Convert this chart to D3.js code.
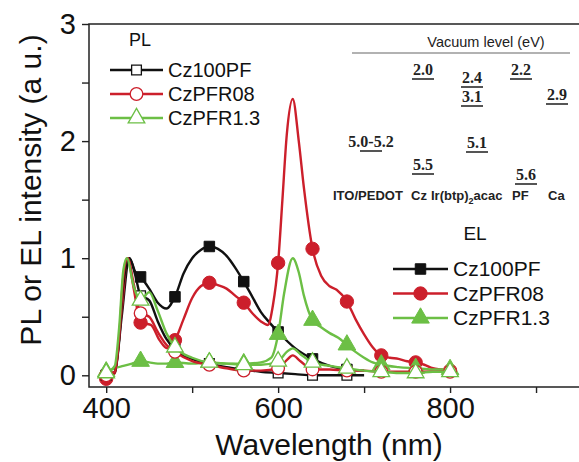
<!DOCTYPE html>
<html>
<head>
<meta charset="utf-8">
<script src="https://cdn.jsdelivr.net/npm/d3@7"></script>
<style>
  body { margin: 0; background: #fff; }
  text { font-family: "Liberation Sans", Arial, sans-serif; }
</style>
</head>
<body>
<svg id="chart" width="579" height="462"></svg>
<script>
// Spectra: [wavelength (nm), normalised intensity]
var plCz100PF = [[400,0.0],[410,0.03],[415,0.3],[420,0.78],[427,1.0],[434,0.85],[440,0.68],[450,0.64],[460,0.46],[470,0.31],[480,0.22],[500,0.14],[520,0.1],[540,0.07],[560,0.05],[580,0.03],[600,0.02],[620,0.01],[640,0.0],[660,0.0],[680,0.0],[700,0.0]];
var plCzPFR08 = [[400,0.0],[410,0.03],[415,0.32],[420,0.85],[425,1.0],[432,0.78],[440,0.53],[450,0.5],[460,0.37],[470,0.26],[480,0.2],[500,0.12],[520,0.09],[540,0.06],[560,0.04],[580,0.04],[600,0.06],[610,0.13],[617,0.17],[626,0.12],[640,0.05],[660,0.05],[680,0.04],[700,0.04],[720,0.03],[740,0.03],[760,0.03],[780,0.03],[800,0.03]];
var plCzPFR13 = [[400,0.02],[410,0.08],[415,0.4],[420,0.9],[424,1.0],[432,0.76],[440,0.64],[450,0.71],[460,0.55],[470,0.36],[480,0.24],[500,0.15],[520,0.11],[540,0.1],[560,0.09],[580,0.09],[600,0.12],[610,0.2],[617,0.23],[626,0.18],[640,0.11],[660,0.08],[680,0.06],[700,0.04],[720,0.03],[740,0.02],[760,0.02],[780,0.03],[800,0.03]];

var elCz100PF = [[400,0.0],[410,0.02],[418,0.5],[427,1.0],[434,0.88],[440,0.84],[450,0.74],[460,0.62],[470,0.57],[480,0.67],[490,0.87],[500,1.0],[510,1.07],[520,1.1],[530,1.08],[540,1.02],[550,0.92],[560,0.8],[570,0.67],[580,0.54],[590,0.45],[600,0.37],[620,0.23],[640,0.14],[660,0.08],[680,0.05],[700,0.04]];
var elCzPFR08 = [[400,-0.03],[410,0.02],[418,0.55],[425,1.0],[432,0.74],[440,0.45],[452,0.43],[462,0.3],[471,0.23],[480,0.3],[490,0.48],[500,0.66],[510,0.76],[520,0.79],[530,0.77],[540,0.74],[550,0.68],[560,0.62],[570,0.53],[580,0.46],[588,0.43],[594,0.6],[600,0.96],[605,1.5],[610,2.05],[617,2.36],[624,2.0],[630,1.6],[640,1.08],[650,0.85],[660,0.76],[668,0.73],[680,0.63],[690,0.48],[700,0.35],[710,0.24],[720,0.17],[730,0.15],[740,0.14],[750,0.12],[760,0.11],[770,0.09],[780,0.06],[790,0.05],[800,0.04]];
var elCzPFR13 = [[400,0.03],[410,0.06],[420,0.08],[430,0.1],[440,0.12],[450,0.11],[460,0.1],[470,0.1],[480,0.11],[500,0.1],[520,0.11],[540,0.1],[560,0.1],[580,0.11],[592,0.15],[600,0.35],[607,0.7],[617,1.0],[624,0.88],[630,0.68],[640,0.47],[650,0.41],[660,0.36],[670,0.32],[680,0.26],[690,0.2],[700,0.15],[710,0.11],[720,0.09],[740,0.07],[760,0.06],[780,0.05],[800,0.05]];

var seriesNames = ['Cz100PF', 'CzPFR08', 'CzPFR1.3'];
var xTicks = [400, 500, 600, 700, 800, 900];
var xTickLabels = ['400', '', '600', '', '800', ''];
var yTicks = [0, 0.5, 1, 1.5, 2, 2.5, 3];
var yTickLabels = ['0', '', '1', '', '2', '', '3'];

// Energy-level inset
var levelValues = ['2.0', '2.4', '2.2', '3.1', '2.9', '5.0-5.2', '5.1', '5.5', '5.6'];
var layerNames = ['ITO/PEDOT', 'Cz', 'Ir(btp)', 'PF', 'Ca'];

var COLORS = ['#111111', '#cc1f2b', '#6cbf45'];
var SHAPES = [d3.symbolSquare, d3.symbolCircle, d3.symbolTriangle];
var SIZES = [95, 125, 120];

var svg = d3.select('#chart');
var margin = {left: 89, top: 24, right: 622, bottom: 387};

var x = d3.scaleLinear().domain([380, 1000]).range([margin.left, margin.right]);
var y = d3.scaleLinear().domain([-0.1, 3]).range([margin.bottom, margin.top]);

svg.append('defs').append('clipPath').attr('id', 'plot-clip')
    .append('rect')
    .attr('x', margin.left).attr('y', margin.top)
    .attr('width', margin.right - margin.left).attr('height', margin.bottom - margin.top);

// axes
var xAxis = svg.append('g').attr('transform', 'translate(0,' + margin.bottom + ')')
    .call(d3.axisBottom(x).tickValues(xTicks).tickSize(6).tickPadding(4)
        .tickFormat(function (d, i) { return xTickLabels[i]; }));
var yAxis = svg.append('g').attr('transform', 'translate(' + margin.left + ',0)')
    .call(d3.axisLeft(y).tickValues(yTicks).tickSize(7).tickPadding(6)
        .tickFormat(function (d, i) { return yTickLabels[i]; }));

[xAxis, yAxis].forEach(function (ax) {
    ax.select('.domain').remove();
    ax.selectAll('line').attr('stroke', '#222').attr('stroke-width', 1.4);
    ax.selectAll('text').attr('fill', '#111')
        .style('font-family', '"Liberation Sans", Arial, sans-serif')
        .style('font-size', '29px');
});

// frame (right side runs off the picture)
svg.append('path')
    .attr('d', 'M' + (margin.right) + ',' + margin.top + 'H' + margin.left + 'V' + margin.bottom + 'H' + margin.right)
    .attr('fill', 'none').attr('stroke', '#222').attr('stroke-width', 1.5);

svg.append('text')
    .attr('x', 329).attr('y', 455)
    .attr('text-anchor', 'middle')
    .style('font-size', '30px').attr('fill', '#111')
    .text('Wavelength (nm)');

svg.append('text')
    .attr('transform', 'translate(41,190) rotate(-90)')
    .attr('text-anchor', 'middle')
    .style('font-size', '30px').attr('fill', '#111')
    .text('PL or EL intensity (a u.)');

// spectra
var line = d3.line()
    .x(function (d) { return x(d[0]); })
    .y(function (d) { return y(d[1]); })
    .curve(d3.curveMonotoneX);

var series = [
    {name: seriesNames[0], data: elCz100PF, idx: 0, open: false},
    {name: seriesNames[1], data: elCzPFR08, idx: 1, open: false},
    {name: seriesNames[2], data: elCzPFR13, idx: 2, open: false},
    {name: seriesNames[0], data: plCz100PF, idx: 0, open: true},
    {name: seriesNames[1], data: plCzPFR08, idx: 1, open: true},
    {name: seriesNames[2], data: plCzPFR13, idx: 2, open: true}
];

var plot = svg.append('g').attr('clip-path', 'url(#plot-clip)');

function drawMarker(sel, s) {
    sel.attr('d', d3.symbol().type(SHAPES[s.idx]).size(SIZES[s.idx] + (s.open ? 0 : 15)))
        .attr('fill', s.open ? '#fff' : COLORS[s.idx])
        .attr('stroke', COLORS[s.idx])
        .attr('stroke-width', s.open ? 1.3 : 1);
}

series.forEach(function (s) {
    var g = plot.append('g').attr('class', (s.open ? 'pl ' : 'el ') + s.name);
    g.append('path').datum(s.data)
        .attr('d', line)
        .attr('fill', 'none')
        .attr('stroke', COLORS[s.idx])
        .attr('stroke-width', 2.4)
        .attr('stroke-linejoin', 'round');
    // a marker every 40 nm
    g.selectAll('path.mk')
        .data(s.data.filter(function (d) { return (d[0] - 400) % 40 === 0; }))
        .enter().append('path').attr('class', 'mk')
        .attr('transform', function (d) { return 'translate(' + x(d[0]) + ',' + y(d[1]) + ')'; })
        .call(drawMarker, s);
});

// legends
function legend(title, titleX, titleY, lineX0, lineX1, textX, rowY0, rowGap, fontSize, open) {
    var lg = svg.append('g');
    lg.append('text').attr('x', titleX).attr('y', titleY)
        .attr('text-anchor', 'middle')
        .style('font-size', (fontSize - 2) + 'px').attr('fill', '#111')
        .text(title);
    seriesNames.forEach(function (name, i) {
        var ry = rowY0 + i * rowGap;
        var s = {idx: i, open: open};
        lg.append('line').attr('x1', lineX0).attr('x2', lineX1).attr('y1', ry).attr('y2', ry)
            .attr('stroke', COLORS[i]).attr('stroke-width', 2.4);
        lg.append('path').attr('transform', 'translate(' + ((lineX0 + lineX1) / 2) + ',' + ry + ')')
            .call(drawMarker, s);
        lg.append('text').attr('x', textX).attr('y', ry + 7)
            .style('font-size', fontSize + 'px').attr('fill', '#111')
            .text(name);
    });
}
legend('PL', 140, 46, 110, 163, 168, 70, 24, 20, true);
legend('EL', 475, 240, 393, 448, 453, 269, 24.5, 21, false);

// energy level inset
var inset = svg.append('g');
inset.append('text').attr('x', 486).attr('y', 47).attr('text-anchor', 'middle')
    .style('font-size', '14.5px').attr('fill', '#222').text('Vacuum level (eV)');
inset.append('line').attr('x1', 352).attr('x2', 570).attr('y1', 53).attr('y2', 53)
    .attr('stroke', '#666').attr('stroke-width', 1.2);

// [centre x, baseline y, underline width]
var levelPos = [[423, 75, 22], [472, 83, 22], [521, 75, 22], [472, 102, 22], [557, 100, 22], [371, 147, 22], [477, 148, 22], [423, 170, 22], [526, 180, 22]];
levelValues.forEach(function (v, i) {
    var p = levelPos[i];
    inset.append('text').attr('x', p[0]).attr('y', p[1]).attr('text-anchor', 'middle')
        .style('font-family', '"Liberation Serif", "Times New Roman", serif')
        .style('font-weight', 'bold').style('font-size', '16px').attr('fill', '#222')
        .text(v);
    inset.append('line').attr('x1', p[0] - p[2] / 2).attr('x2', p[0] + p[2] / 2)
        .attr('y1', p[1] + 4).attr('y2', p[1] + 4)
        .attr('stroke', '#555').attr('stroke-width', 2);
});

var layerX = [333, 411, 431, 512, 548];
layerNames.forEach(function (n, i) {
    var t = inset.append('text').attr('x', layerX[i]).attr('y', 200)
        .style('font-weight', 'bold').style('font-size', '13px').attr('fill', '#222');
    t.append('tspan').text(n);
    if (n === 'Ir(btp)') {
        t.append('tspan').attr('dy', 4).style('font-size', '9px').text('2');
        t.append('tspan').attr('dy', -4).text('acac');
    }
});
</script>
</body>
</html>
